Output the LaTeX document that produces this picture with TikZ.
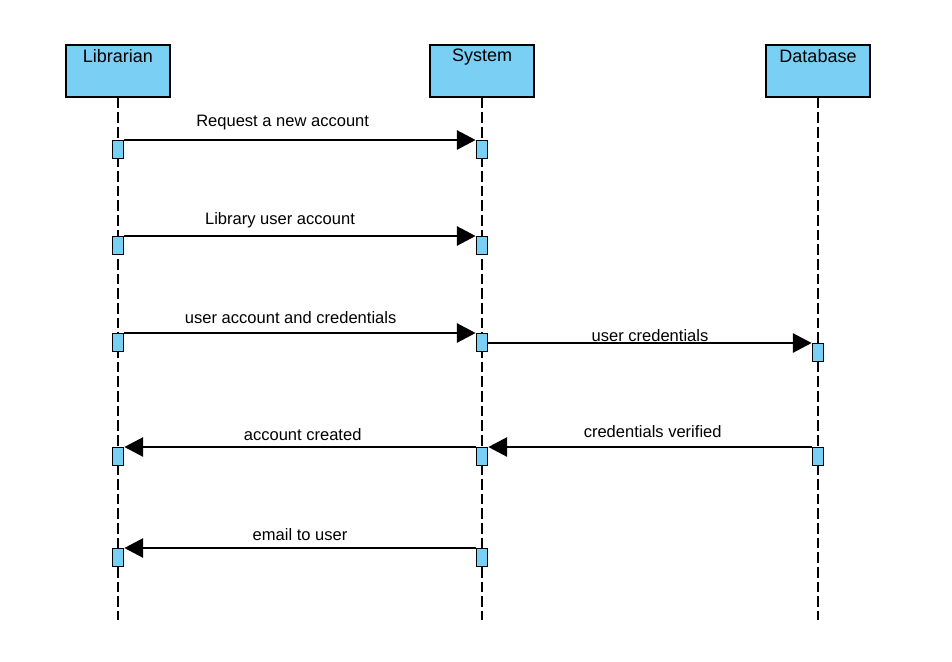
\documentclass[tikz,border=0pt]{standalone}
\usepackage{fontspec}
\setmainfont{Liberation Sans}
\usepackage{tikz}
\usetikzlibrary{arrows.meta}
\definecolor{actorblue}{RGB}{122,207,245}
\newcommand{\lifeend}{620}
\tikzset{
    actor/.style={draw, fill=actorblue, line width=1.3pt, minimum width=78pt, minimum height=39pt, anchor=north, inner sep=0pt},
    actorname/.style={font=\fontsize{13.5}{15}\selectfont, anchor=north, yshift=-0.5pt},
    activation/.style={draw, fill=actorblue, line width=1.1pt, minimum width=8.5pt, minimum height=13.5pt, anchor=north, inner sep=0pt},
    lifeline/.style={line width=1.2pt, dash pattern=on 8pt off 3pt},
    msg/.style={line width=1pt, -{Triangle[length=14pt, width=14.5pt]}},
    msglabel/.style={font=\fontsize{12.4}{14}\selectfont, above}
}
\begin{document}
\begin{tikzpicture}[x=0.75pt, y=-0.75pt]
    \useasboundingbox (0,0) rectangle (952,661);

    % participants
    \node[actor, label={[actorname]north:Librarian}] (lib) at (118,44) {};
    \node[actor, label={[actorname]north:System}] (sys) at (482,44) {};
    \node[actor, label={[actorname]north:Database}] (db) at (818,44) {};

    \coordinate (end) at (0,\lifeend);
    \draw[lifeline] (lib.south) -- (lib.south |- end);
    \draw[lifeline] (sys.south) -- (sys.south |- end);
    \draw[lifeline] (db.south) -- (db.south |- end);

    % activations
    \node[activation] (lib1) at (118,140) {};
    \node[activation] (sys1) at (482,140) {};
    \node[activation] (lib2) at (118,236) {};
    \node[activation] (sys2) at (482,236) {};
    \node[activation] (lib3) at (118,333) {};
    \node[activation] (sys3) at (482,333) {};
    \node[activation] (db4) at (818,343) {};
    \node[activation] (lib5) at (118,447) {};
    \node[activation] (sys5) at (482,447) {};
    \node[activation] (db5) at (818,447) {};
    \node[activation] (lib6) at (118,548) {};
    \node[activation] (sys6) at (482,548) {};

    % messages
    \draw[msg] (lib1.north east) -- (sys1.north west)
        node[msglabel, midway, xshift=-13pt, yshift=4pt] {Request a new account};
    \draw[msg] (lib2.north east) -- (sys2.north west)
        node[msglabel, midway, xshift=-15pt, yshift=2pt] {Library user account};
    \draw[msg] (lib3.north east) -- (sys3.north west)
        node[msglabel, midway, xshift=-7pt, yshift=3pt] {user account and credentials};
    \draw[msg] (sys3.east |- db4.north) -- (db4.north west)
        node[msglabel, midway, yshift=-3pt] {user credentials};
    \draw[msg] (db5.north west) -- (sys5.north east)
        node[msglabel, midway, xshift=2pt, yshift=3pt] {credentials verified};
    \draw[msg] (sys5.north west) -- (lib5.north east)
        node[msglabel, midway, xshift=2pt, yshift=1pt] {account created};
    \draw[msg] (sys6.north west) -- (lib6.north east)
        node[msglabel, midway, yshift=2pt] {email to user};
\end{tikzpicture}
\end{document}
